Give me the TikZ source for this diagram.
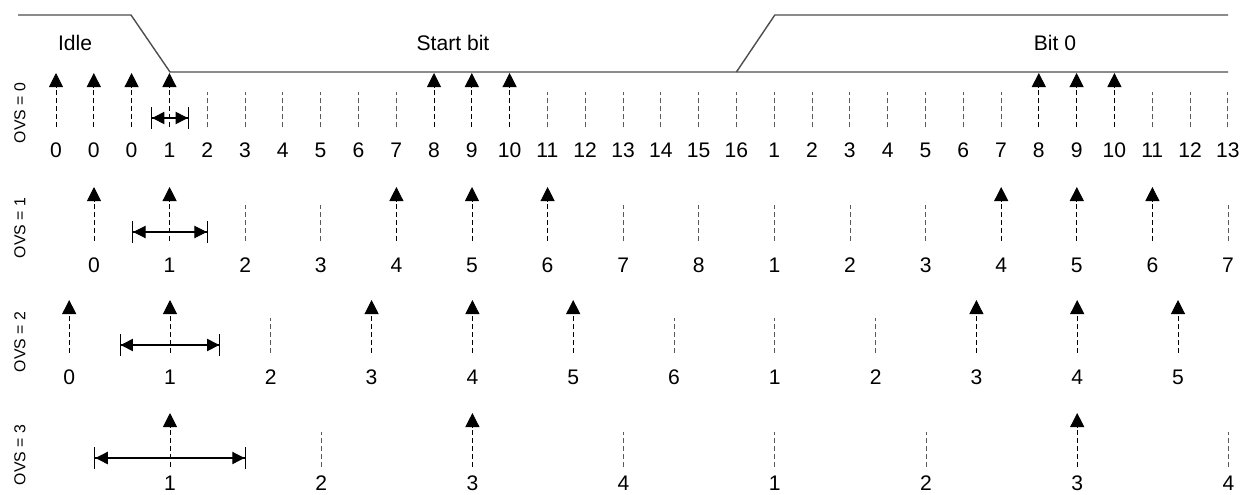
\documentclass[tikz,border=0pt]{standalone}
\usepackage{fontspec}
\setmainfont{Liberation Sans}
\usetikzlibrary{arrows.meta, positioning, calc}
\definecolor{inkline}{HTML}{4D4D4D}
\definecolor{inktick}{HTML}{5A5A5A}

\begin{document}
\begin{tikzpicture}[x=0.02cm, y=-0.02cm,
    num/.style={font=\fontsize{12}{14}\selectfont, inner sep=0pt},
    ovs/.style={font=\fontsize{9}{11}\selectfont, rotate=90, inner sep=0pt},
    tick/.style={inktick, line width=0.55pt, dash pattern=on 2.8pt off 1.7pt},
    sample/.style={black, line width=0.55pt, dash pattern=on 2.8pt off 1.7pt,
                   -{Triangle[length=8pt, width=8pt]}},
    win/.style={black, line width=0.6pt,
                {Bar[width=12.5pt]Triangle[length=7pt, width=7pt]}-{Triangle[length=7pt, width=7pt]Bar[width=12.5pt]}}]
  \useasboundingbox (0,0) rectangle (1240,494);

  % line level
  \coordinate (hi0) at (18,15);
  \coordinate (fall) at (131,15);
  \coordinate (lo0) at (170,72);
  \coordinate (lo1) at (736.4,72);
  \coordinate (rise) at (774.8,15);
  \coordinate (loend) at (1228,72);
  \coordinate (hiend) at (1228,15);
  \draw[inkline, line width=0.8pt] (hi0) -- (fall) -- (lo0) -- (loend);
  \draw[inkline, line width=0.8pt] (lo1) -- (rise) -- (hiend);
  \node[num] (idle) at (75,43) {Idle};
  \node[num] (start) at (453,43) {Start bit};
  \node[num] (bit0) at (1055,43) {Bit 0};

  % OVS = 0
  \node[ovs] (ovs0) at (20,113) {OVS = 0};
  \foreach \lab [count=\i from 0] in {0,0,0,1,2,3,4,5,6,7,8,9,10,11,12,13,14,15,16,
                                      1,2,3,4,5,6,7,8,9,10,11,12,13}
    \node[num] (a\i) at (56+\i*37.8,150) {\lab};
  \foreach \i in {4,5,6,7,8,9,13,14,15,16,17,18,19,20,21,22,23,24,25,29,30,31}
    \draw[tick] (a\i |- 0,127) -- (a\i |- 0,92);
  \foreach \i in {0,1,2,3,10,11,12,26,27,28}
    \draw[sample] (a\i |- 0,127) -- (a\i |- 0,73);
  \coordinate (w0l) at (151.1,118);
  \coordinate (w0r) at (188.9,118);
  \draw[win] (w0l) -- (w0r);

  % OVS = 1
  \node[ovs] (ovs1) at (20,228) {OVS = 1};
  \foreach \lab [count=\i from 0] in {0,1,2,3,4,5,6,7,8,1,2,3,4,5,6,7}
    \node[num] (b\i) at (94+\i*75.6,265) {\lab};
  \foreach \i in {2,3,7,8,9,10,11,15}
    \draw[tick] (b\i |- 0,241) -- (b\i |- 0,205);
  \foreach \i in {0,1,4,5,6,12,13,14}
    \draw[sample] (b\i |- 0,241) -- (b\i |- 0,187);
  \coordinate (w1l) at (132.2,232);
  \coordinate (w1r) at (207.8,232);
  \draw[win] (w1l) -- (w1r);

  % OVS = 2
  \node[ovs] (ovs2) at (20,342) {OVS = 2};
  \foreach \lab [count=\i from 0] in {0,1,2,3,4,5,6,1,2,3,4,5}
    \node[num] (c\i) at (69.2+\i*100.8,377) {\lab};
  \foreach \i in {2,6,7,8}
    \draw[tick] (c\i |- 0,353) -- (c\i |- 0,318);
  \foreach \i in {0,1,3,4,5,9,10,11}
    \draw[sample] (c\i |- 0,353) -- (c\i |- 0,300);
  \coordinate (w2l) at (119.6,345);
  \coordinate (w2r) at (220.4,345);
  \draw[win] (w2l) -- (w2r);

  % OVS = 3
  \node[ovs] (ovs3) at (20,455) {OVS = 3};
  \foreach \lab [count=\i from 0] in {1,2,3,4,1,2,3,4}
    \node[num] (d\i) at (170+\i*151.2,483) {\lab};
  \foreach \i in {1,3,4,5,7}
    \draw[tick] (d\i |- 0,467) -- (d\i |- 0,432);
  \foreach \i in {0,2,6}
    \draw[sample] (d\i |- 0,467) -- (d\i |- 0,413);
  \coordinate (w3l) at (94.4,458);
  \coordinate (w3r) at (245.6,458);
  \draw[win] (w3l) -- (w3r);
\end{tikzpicture}
\end{document}
